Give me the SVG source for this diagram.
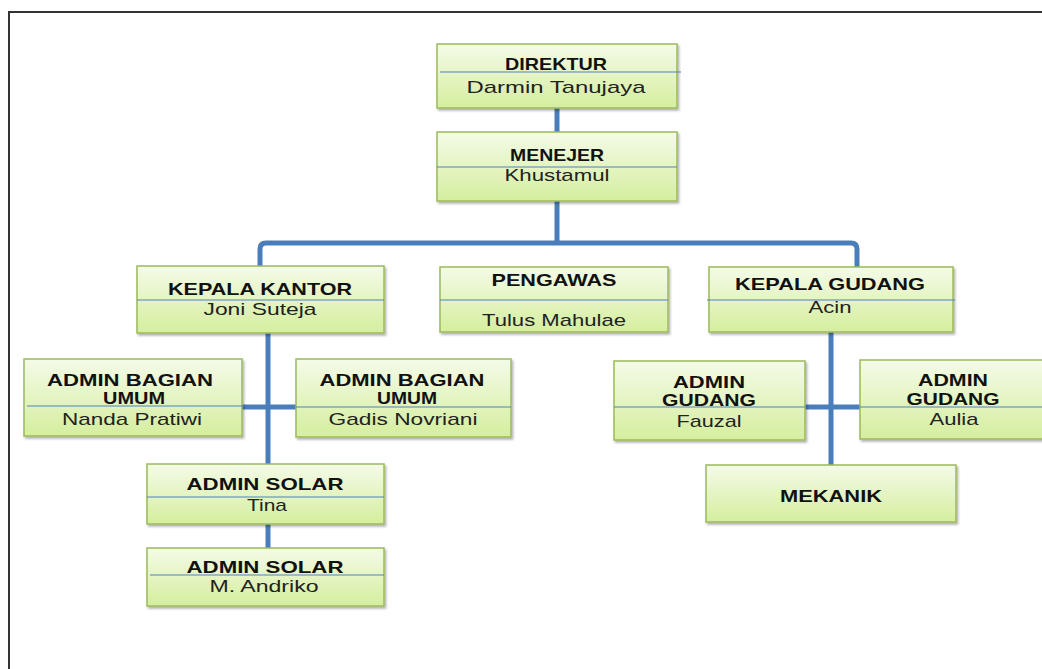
<svg xmlns="http://www.w3.org/2000/svg" width="1042" height="669" viewBox="0 0 1042 669">
<defs>
<linearGradient id="g" x1="0" y1="0" x2="0" y2="1">
<stop offset="0" stop-color="#f4fbe8"/>
<stop offset="1" stop-color="#d5ee9e"/>
</linearGradient>
<filter id="sh" x="-5%" y="-5%" width="115%" height="125%">
<feDropShadow dx="1.5" dy="2" stdDeviation="1.2" flood-color="#000" flood-opacity="0.3"/>
</filter>
</defs>
<style>
.box{fill:url(#g);stroke:#9bbb59;stroke-width:1.5;filter:url(#sh)}
.div{stroke:#4f81bd;stroke-width:1}
.h{font-family:"Liberation Sans",Arial,sans-serif;font-weight:bold;font-size:16.5px;fill:#111;text-anchor:middle}
.n{font-family:"Liberation Sans",Arial,sans-serif;font-size:17px;fill:#222;text-anchor:middle}
.c{fill:none;stroke:#4a7ebb;stroke-width:5}
</style>
<rect width="1042" height="669" fill="#fff"/>
<path d="M9 669 V12 H1042" fill="none" stroke="#333" stroke-width="2"/>
<g id="connectors">
<path class="c" d="M557 108 V132"/>
<path class="c" d="M557 201 V243"/>
<path class="c" d="M260 266 V249 Q260 243 266 243 H851 Q857 243 857 249 V267"/>
<path class="c" d="M268 333 V464"/>
<path class="c" d="M242 407 H297"/>
<path class="c" d="M268 524 V548"/>
<path class="c" d="M831 332 V465"/>
<path class="c" d="M805 407 H860"/>
</g>
<g id="direktur">
<rect class="box" x="437" y="44" width="240" height="64"/>
<line class="div" x1="440" y1="72" x2="681" y2="72"/>
<text class="h" x="556" y="70" textLength="102" lengthAdjust="spacingAndGlyphs">DIREKTUR</text>
<text class="n" x="556" y="93" font-size="18" textLength="179" lengthAdjust="spacingAndGlyphs">Darmin Tanujaya</text>
</g>
<g id="menejer">
<rect class="box" x="437" y="132" width="240" height="69"/>
<line class="div" x1="437" y1="167" x2="677" y2="167"/>
<text class="h" x="557" y="161" textLength="94" lengthAdjust="spacingAndGlyphs">MENEJER</text>
<text class="n" x="557" y="181" textLength="105" lengthAdjust="spacingAndGlyphs">Khustamul</text>
</g>
<g id="kepala-kantor">
<rect class="box" x="137" y="266" width="247" height="67"/>
<line class="div" x1="137" y1="300" x2="384" y2="300"/>
<text class="h" x="260" y="295" textLength="184" lengthAdjust="spacingAndGlyphs">KEPALA KANTOR</text>
<text class="n" x="260" y="315" textLength="113" lengthAdjust="spacingAndGlyphs">Joni Suteja</text>
</g>
<g id="pengawas">
<rect class="box" x="440" y="267" width="228" height="65"/>
<line class="div" x1="440" y1="300" x2="668" y2="300"/>
<text class="h" x="554" y="286" textLength="125" lengthAdjust="spacingAndGlyphs">PENGAWAS</text>
<text class="n" x="554" y="326" textLength="144" lengthAdjust="spacingAndGlyphs">Tulus Mahulae</text>
</g>
<g id="kepala-gudang">
<rect class="box" x="709" y="267" width="244" height="65"/>
<line class="div" x1="707" y1="300" x2="955" y2="300"/>
<text class="h" x="830" y="290" textLength="190" lengthAdjust="spacingAndGlyphs">KEPALA GUDANG</text>
<text class="n" x="830" y="313" textLength="43" lengthAdjust="spacingAndGlyphs">Acin</text>
</g>
<g id="admin-umum-1">
<rect class="box" x="24" y="359" width="218" height="77"/>
<line class="div" x1="27" y1="406" x2="244" y2="406"/>
<text class="h" x="130" y="386" textLength="166" lengthAdjust="spacingAndGlyphs">ADMIN BAGIAN</text>
<text class="h" x="134" y="404" textLength="62" lengthAdjust="spacingAndGlyphs">UMUM</text>
<text class="n" x="132" y="425" textLength="140" lengthAdjust="spacingAndGlyphs">Nanda Pratiwi</text>
</g>
<g id="admin-umum-2">
<rect class="box" x="296" y="359" width="215" height="78"/>
<line class="div" x1="296" y1="407" x2="511" y2="407"/>
<text class="h" x="402" y="386" textLength="165" lengthAdjust="spacingAndGlyphs">ADMIN BAGIAN</text>
<text class="h" x="407" y="404" textLength="60" lengthAdjust="spacingAndGlyphs">UMUM</text>
<text class="n" x="403" y="425" textLength="149" lengthAdjust="spacingAndGlyphs">Gadis Novriani</text>
</g>
<g id="admin-solar-1">
<rect class="box" x="147" y="464" width="237" height="60"/>
<line class="div" x1="147" y1="497" x2="384" y2="497"/>
<text class="h" x="265" y="490" textLength="157" lengthAdjust="spacingAndGlyphs">ADMIN SOLAR</text>
<text class="n" x="267" y="511" textLength="40" lengthAdjust="spacingAndGlyphs">Tina</text>
</g>
<g id="admin-solar-2">
<rect class="box" x="147" y="548" width="237" height="58"/>
<line class="div" x1="150" y1="575" x2="384" y2="575"/>
<text class="h" x="265" y="573" textLength="157" lengthAdjust="spacingAndGlyphs">ADMIN SOLAR</text>
<text class="n" x="264" y="592" textLength="109" lengthAdjust="spacingAndGlyphs">M. Andriko</text>
</g>
<g id="admin-gudang-1">
<rect class="box" x="614" y="361" width="191" height="79"/>
<line class="div" x1="614" y1="407" x2="805" y2="407"/>
<text class="h" x="709" y="388" font-size="18" textLength="72" lengthAdjust="spacingAndGlyphs">ADMIN</text>
<text class="h" x="709" y="406" font-size="18" textLength="94" lengthAdjust="spacingAndGlyphs">GUDANG</text>
<text class="n" x="709" y="427" textLength="65" lengthAdjust="spacingAndGlyphs">Fauzal</text>
</g>
<g id="admin-gudang-2">
<rect class="box" x="860" y="360" width="190" height="79"/>
<line class="div" x1="860" y1="407" x2="1042" y2="407"/>
<text class="h" x="953" y="386" font-size="18" textLength="70" lengthAdjust="spacingAndGlyphs">ADMIN</text>
<text class="h" x="953" y="405" font-size="18" textLength="93" lengthAdjust="spacingAndGlyphs">GUDANG</text>
<text class="n" x="954" y="425" textLength="49" lengthAdjust="spacingAndGlyphs">Aulia</text>
</g>
<g id="mekanik">
<rect class="box" x="706" y="465" width="250" height="57"/>
<text class="h" x="831" y="502" font-size="18" textLength="102" lengthAdjust="spacingAndGlyphs">MEKANIK</text>
</g>
</svg>
